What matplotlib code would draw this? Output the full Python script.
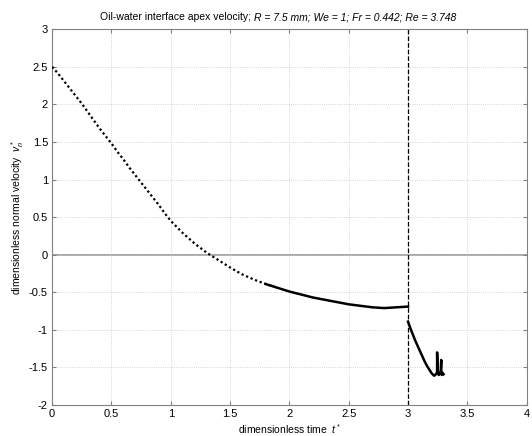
import matplotlib.pyplot as plt
import numpy as np

plt.rcParams['font.family'] = ['Liberation Sans', 'DejaVu Sans']
plt.rcParams['mathtext.fontset'] = 'custom'
plt.rcParams['mathtext.it'] = 'Liberation Sans:italic'
plt.rcParams['mathtext.rm'] = 'Liberation Sans'

# first stage: apex velocity before the jump
t1 = [0.0, 0.05, 0.1, 0.15, 0.2, 0.25, 0.3, 0.35, 0.4, 0.45, 0.5,
      0.55, 0.6, 0.65, 0.7, 0.75, 0.8, 0.85, 0.9, 0.95, 1.0,
      1.05, 1.1, 1.15, 1.2, 1.25, 1.3, 1.35, 1.4, 1.45, 1.5,
      1.6, 1.7, 1.8, 1.9, 2.0, 2.1, 2.2, 2.3, 2.4, 2.5,
      2.6, 2.7, 2.8, 2.9, 3.0]
v1 = [2.50, 2.41, 2.31, 2.21, 2.11, 2.01, 1.90, 1.79, 1.68, 1.58, 1.48,
      1.37, 1.27, 1.16, 1.06, 0.96, 0.86, 0.76, 0.66, 0.55, 0.45,
      0.37, 0.29, 0.22, 0.15, 0.09, 0.03, -0.02, -0.07, -0.12, -0.17,
      -0.26, -0.33, -0.39, -0.44, -0.49, -0.53, -0.57, -0.60, -0.63, -0.66,
      -0.68, -0.70, -0.71, -0.70, -0.69]

# second stage after t* = 3
t2 = [3.0, 3.02, 3.04, 3.06, 3.08, 3.10, 3.12, 3.14, 3.16, 3.18, 3.20, 3.22, 3.235,
      3.245, 3.245, 3.25, 3.26, 3.275, 3.28, 3.28, 3.285, 3.29, 3.30]
v2 = [-0.89, -0.98, -1.06, -1.14, -1.21, -1.28, -1.35, -1.42, -1.48, -1.53, -1.58, -1.61, -1.59,
      -1.56, -1.30, -1.58, -1.60, -1.55, -1.40, -1.58, -1.60, -1.57, -1.59]

fig, ax = plt.subplots(figsize=(5.32, 4.36), dpi=100)
fig.subplots_adjust(left=0.098, right=0.99, top=0.933, bottom=0.071)

ax.grid(True, linestyle=':', color='#c8c8c8', linewidth=0.6)
ax.axhline(0, color='#a0a0a0', linewidth=1.3, zorder=1)
ax.axvline(3, color='k', linestyle='--', linewidth=0.9, zorder=2)

t1a = np.array(t1)
v1a = np.array(v1)
early = t1a <= 1.9
late = t1a >= 1.8
ax.plot(t1a[early], v1a[early], color='k', linestyle=(0, (1, 1.2)),
        linewidth=1.6, zorder=3)
ax.plot(t1a[late], v1a[late], color='k', linewidth=1.8, zorder=3)
ax.plot(t2, v2, color='k', linewidth=1.8, zorder=3)

ax.set_xlim(0, 4)
ax.set_ylim(-2, 3)
ax.set_xticks(np.arange(0, 4.01, 0.5))
ax.set_yticks(np.arange(-2, 3.01, 0.5))
ax.set_xticklabels(['0', '0.5', '1', '1.5', '2', '2.5', '3', '3.5', '4'])
ax.set_yticklabels(['-2', '-1.5', '-1', '-0.5', '0', '0.5', '1', '1.5', '2', '2.5', '3'])
ax.tick_params(direction='in', top=True, right=True, labelsize=8,
               color='#808080', length=3, pad=3)
for s in ax.spines.values():
    s.set_color('#808080')

ax.set_xlabel(r'dimensionless time  $t^*$', fontsize=7.5, labelpad=2)
ax.set_ylabel(r'dimensionless normal velocity  $v_n^*$', fontsize=7.5, labelpad=2)

title_a = fig.text(0.188, 0.96, 'Oil-water interface apex velocity; ',
                   fontsize=7.5, va='center', ha='left')
ax.annotate('R = 7.5 mm; We = 1; Fr = 0.442; Re = 3.748', xy=(1, 0),
            xycoords=title_a, va='bottom', ha='left', fontsize=7.5,
            fontstyle='italic', annotation_clip=False)

plt.savefig('out.png', dpi=100)
